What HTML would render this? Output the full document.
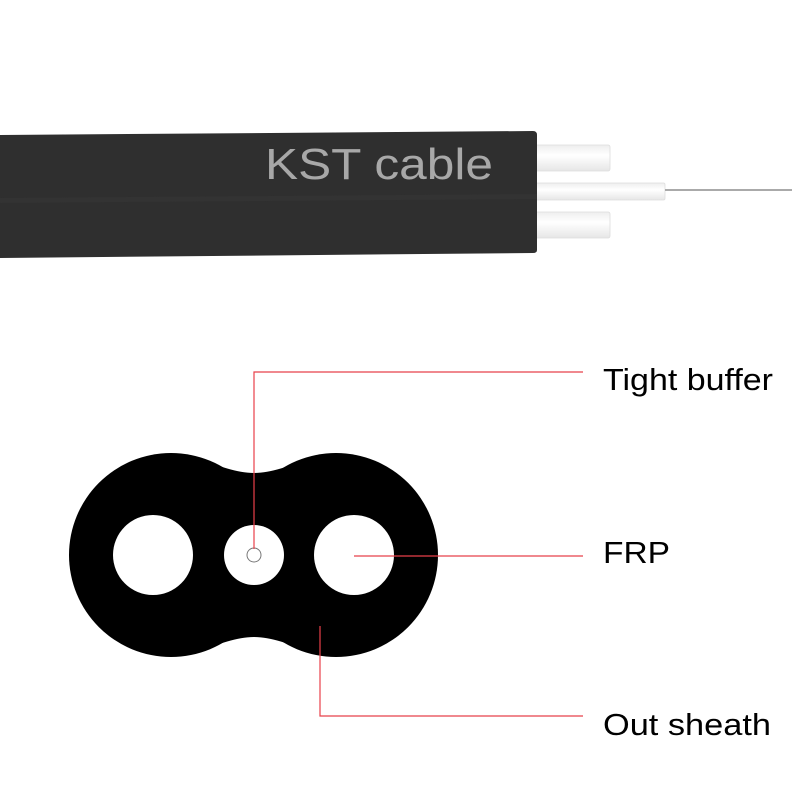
<!DOCTYPE html>
<html><head><meta charset="utf-8"><style>
html,body{margin:0;padding:0;background:#fff;}
svg{display:block;}
</style></head><body>
<svg width="800" height="800" viewBox="0 0 800 800" xmlns="http://www.w3.org/2000/svg">
<defs>
<linearGradient id="tube" x1="0" y1="0" x2="0" y2="1">
<stop offset="0" stop-color="#eee"/><stop offset="0.4" stop-color="#fff"/><stop offset="1" stop-color="#e6e6e6"/>
</linearGradient>
</defs>
<rect x="530" y="145" width="80" height="26" rx="2" fill="url(#tube)" stroke="#ddd" stroke-width="0.8"/>
<rect x="530" y="212" width="80" height="26" rx="2" fill="url(#tube)" stroke="#ddd" stroke-width="0.8"/>
<rect x="530" y="183" width="135" height="17" rx="1.5" fill="url(#tube)" stroke="#ddd" stroke-width="0.8"/>
<line x1="665" y1="190" x2="792" y2="190" stroke="#aaa" stroke-width="2"/>
<path d="M0 135 L533 131 Q537 131 537 135 L537 250 Q537 253 533 253 L0 258 Z" fill="#2f2f2f"/>
<path d="M0 198 L537 194 L537 199 L0 203 Z" fill="#333"/>
<text x="265" y="179" font-family="Liberation Sans, sans-serif" font-size="44" fill="#a8a8a8" textLength="228" lengthAdjust="spacingAndGlyphs">KST  cable</text>
<circle cx="171" cy="555" r="102" fill="#000"/>
<circle cx="336" cy="555" r="102" fill="#000"/>
<path d="M190 458 C222 466 236 473 254 473 C272 473 286 466 318 458 L318 652 C286 644 272 637 254 637 C236 637 222 644 190 652 Z" fill="#000"/>
<circle cx="153" cy="555" r="40" fill="#fff"/>
<circle cx="354" cy="555" r="40" fill="#fff"/>
<circle cx="254" cy="555" r="30" fill="#fff"/>
<circle cx="254" cy="555" r="7" fill="#fff" stroke="#777" stroke-width="1"/>
<g stroke="#e8404a" stroke-width="1.2" fill="none">
<polyline points="254,549 254,372 583,372"/>
<polyline points="354,556 583,556"/>
<polyline points="320,626 320,716 583,716"/>
</g>
<g font-family="Liberation Sans, sans-serif" font-size="31" fill="#000">
<text x="603" y="390" textLength="170" lengthAdjust="spacingAndGlyphs">Tight buffer</text>
<text x="603" y="563" textLength="67" lengthAdjust="spacingAndGlyphs">FRP</text>
<text x="603" y="735" textLength="168" lengthAdjust="spacingAndGlyphs">Out sheath</text>
</g>
</svg>
</body></html>
